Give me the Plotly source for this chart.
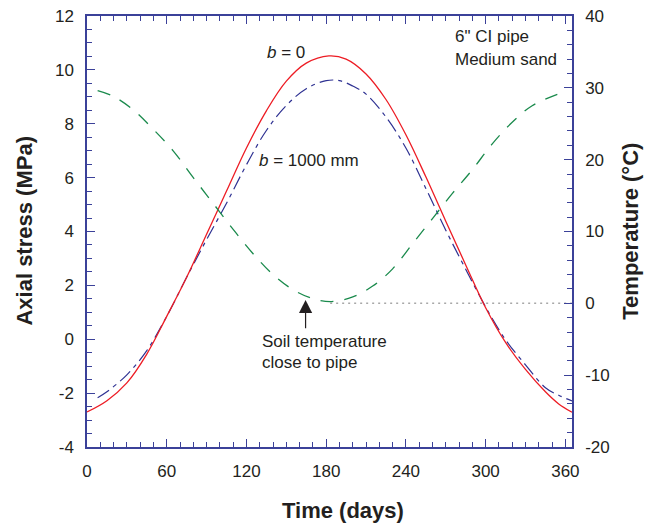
import plotly.graph_objects as go

# ---- data ----
days_b0 = [0, 15, 30, 45, 60, 75, 90, 105, 120, 135, 150, 165, 182, 195, 210, 225, 240, 255, 270, 285, 300, 315, 330, 345, 355, 365]
stress_b0 = [-2.70, -2.28, -1.62, -0.55, 0.85, 2.30, 3.90, 5.50, 7.10, 8.48, 9.58, 10.25, 10.52, 10.40, 9.85, 8.90, 7.59, 6.03, 4.38, 2.76, 1.17, -0.12, -1.12, -1.95, -2.40, -2.71]

days_b1000 = [8, 15, 30, 45, 60, 75, 90, 105, 120, 135, 150, 165, 180, 190, 200, 210, 225, 240, 255, 270, 285, 300, 315, 330, 345, 355, 365]
stress_b1000 = [-2.17, -1.95, -1.32, -0.42, 0.85, 2.30, 3.70, 5.05, 6.48, 7.75, 8.68, 9.30, 9.60, 9.60, 9.40, 9.10, 8.25, 7.10, 5.60, 4.05, 2.60, 1.20, -0.02, -0.95, -1.80, -2.08, -2.29]

days_soil = [8, 20, 35, 50, 65, 80, 95, 110, 125, 140, 155, 170, 184, 200, 215, 230, 245, 260, 275, 290, 305, 320, 335, 357]
soil_temp = [29.6, 28.8, 26.9, 24.2, 21.2, 17.5, 13.9, 10.3, 6.9, 4.0, 1.9, 0.65, 0.25, 0.9, 2.4, 4.8, 8.3, 11.8, 15.3, 18.6, 22.2, 25.2, 27.5, 29.3]

zero_ref_days = [183, 365]
zero_ref_temp = [0, 0]

x_ticks = [0, 60, 120, 180, 240, 300, 360]
y_ticks = [-4, -2, 0, 2, 4, 6, 8, 10, 12]
y2_ticks = [-20, -10, 0, 10, 20, 30, 40]

AX = "#3b4199"
FONT = "Arial, Liberation Sans, sans-serif"
TXT = "#231f20"

fig = go.Figure()
fig.add_trace(go.Scatter(x=zero_ref_days, y=zero_ref_temp, yaxis="y2", mode="lines",
                         line=dict(color="#a8a8a8", width=1.5, dash="2px,4px"), hoverinfo="skip"))
fig.add_trace(go.Scatter(x=days_soil, y=soil_temp, yaxis="y2", mode="lines", line_shape="spline",
                         line=dict(color="#1a8a4c", width=1.3, dash="13px,11px")))
fig.add_trace(go.Scatter(x=days_b1000, y=stress_b1000, mode="lines", line_shape="spline",
                         line=dict(color="#2e3192", width=1.2, dash="14px,5px,4px,5px")))
fig.add_trace(go.Scatter(x=days_b0, y=stress_b0, mode="lines", line_shape="spline",
                         line=dict(color="#ed1c24", width=1.3)))

def lbl(v):
    return [str(t).replace("−", "-") for t in v]

fig.update_layout(
    width=650, height=527,
    margin=dict(l=87, r=78, t=16, b=80, autoexpand=False),
    paper_bgcolor="white", plot_bgcolor="white",
    showlegend=False,
    font=dict(family=FONT, size=17, color=TXT),
    xaxis=dict(range=[0, 365], tickvals=x_ticks, ticktext=lbl(x_ticks), ticks="inside", ticklen=8, tickwidth=1.2,
               tickcolor=AX, showline=True, linecolor=AX, linewidth=1.5, mirror="ticks",
               showgrid=False, zeroline=False, ticklabelstandoff=8, automargin=False,
               minor=dict(dtick=10, ticks="inside", ticklen=5, tickcolor=AX, tickwidth=1.2, showgrid=False)),
    yaxis=dict(range=[-4, 12], tickvals=y_ticks, ticktext=lbl(y_ticks), ticks="inside", ticklen=8, tickwidth=1.2,
               tickcolor=AX, showline=True, linecolor=AX, linewidth=1.5,
               showgrid=False, zeroline=False, ticklabelstandoff=8, automargin=False,
               minor=dict(dtick=0.5, ticks="inside", ticklen=5, tickcolor=AX, tickwidth=1.2, showgrid=False)),
    yaxis2=dict(range=[-20, 40], tickvals=y2_ticks, ticktext=lbl(y2_ticks), overlaying="y", side="right",
                ticks="inside", ticklen=8, tickwidth=1.2,
                tickcolor=AX, showline=True, linecolor=AX, linewidth=1.5,
                showgrid=False, zeroline=False, ticklabelstandoff=8, automargin=False,
                minor=dict(dtick=2, ticks="inside", ticklen=5, tickcolor=AX, tickwidth=1.2, showgrid=False)),
)

title_font = dict(family=FONT, size=22, color=TXT)
fig.add_annotation(text="<b>Time (days)</b>", xref="paper", yref="paper", x=0.528, y=-0.148,
                   showarrow=False, font=title_font, xanchor="center", yanchor="middle")
fig.add_annotation(text="<b>Axial stress (MPa)</b>", xref="paper", yref="paper", x=-0.128, y=0.502,
                   textangle=-90, showarrow=False, font=title_font, xanchor="center", yanchor="middle")
fig.add_annotation(text="<b>Temperature (°C)</b>", xref="paper", yref="paper", x=1.12, y=0.5,
                   textangle=-90, showarrow=False, font=title_font, xanchor="center", yanchor="middle")

lab_font = dict(family=FONT, size=17, color=TXT)
fig.add_annotation(text="<i>b</i> = 0", x=149.5, y=10.64, showarrow=False, font=lab_font,
                   xanchor="center", yanchor="middle")
fig.add_annotation(text="<i>b</i> = 1000 mm", x=166.7, y=6.65, showarrow=False, font=lab_font,
                   xanchor="center", yanchor="middle")
fig.add_annotation(text="6\" CI pipe", x=275.4, y=11.23, showarrow=False, font=lab_font,
                   xanchor="left", yanchor="middle")
fig.add_annotation(text="Medium sand", x=275.4, y=10.37, showarrow=False, font=lab_font,
                   xanchor="left", yanchor="middle")
fig.add_annotation(text="Soil temperature", x=130.3, y=-0.09, showarrow=False, font=lab_font,
                   xanchor="left", yanchor="middle")
fig.add_annotation(text="close to pipe", x=130.3, y=-0.87, showarrow=False, font=lab_font,
                   xanchor="left", yanchor="middle")
fig.add_annotation(text="", x=164.5, y=1.46, ax=164.5, ay=0.35, axref="x", ayref="y",
                   showarrow=True, arrowhead=2, arrowsize=2.2, arrowwidth=1.2, arrowcolor=TXT)

fig.write_html("out.html", config={"displayModeBar": False},
               post_script="document.body.style.margin='0';document.body.style.padding='0';")
